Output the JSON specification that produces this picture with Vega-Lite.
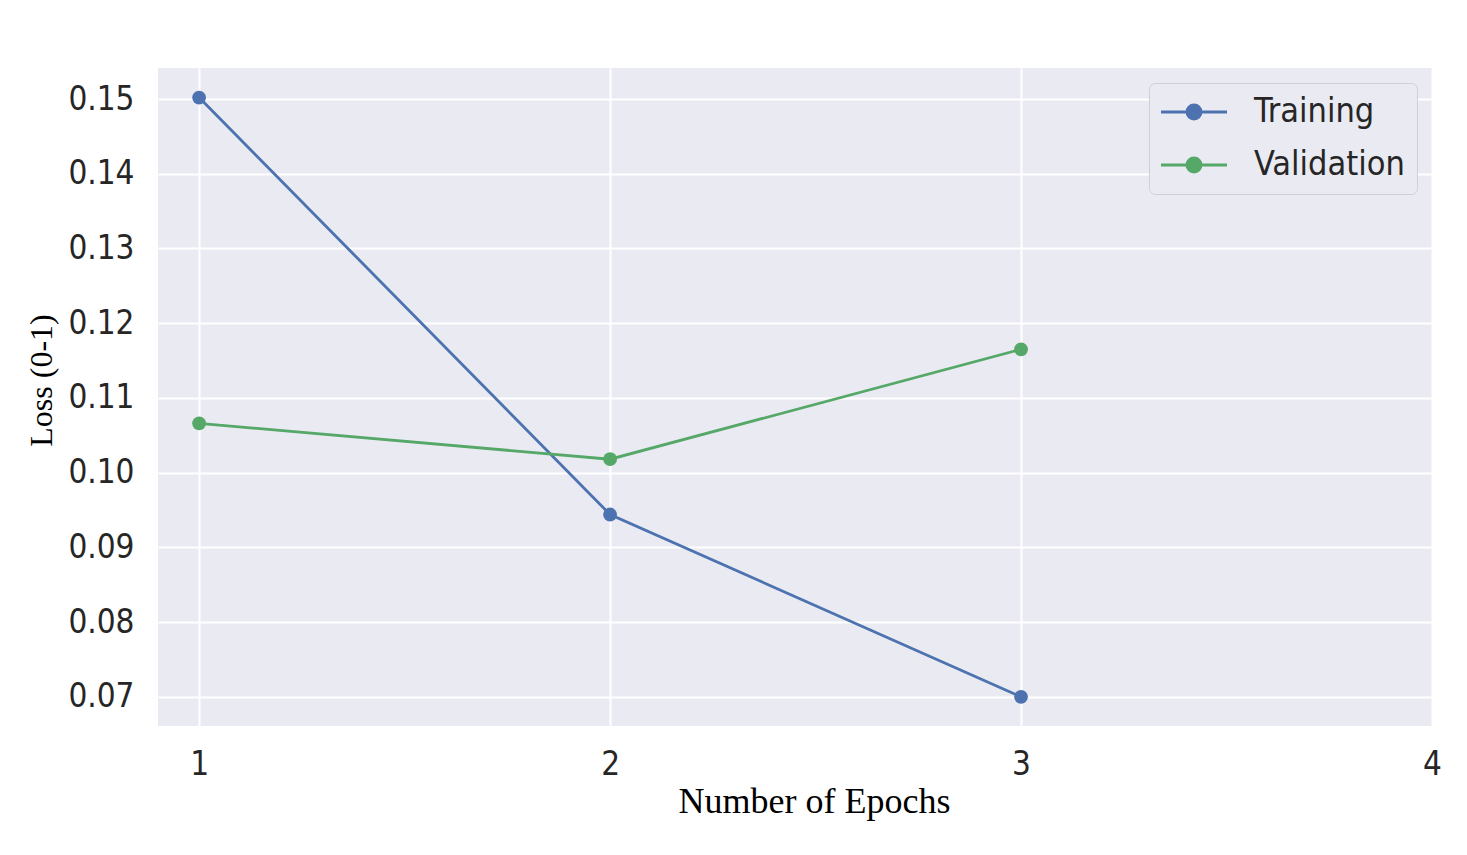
{
  "$schema": "https://vega.github.io/schema/vega-lite/v6.json",
  "width": 1274,
  "height": 658,
  "autosize": {"type": "none"},
  "padding": {"left": 158, "top": 68, "right": 35, "bottom": 129},
  "background": "white",
  "config": {
    "view": {"fill": "#EAEAF2", "stroke": null},
    "font": "DejaVu Sans Condensed, DejaVu Sans"
  },
  "data": {
    "values": [
      {"epoch": 1, "loss": 0.1502, "series": "Training"},
      {"epoch": 2, "loss": 0.0944, "series": "Training"},
      {"epoch": 3, "loss": 0.0700, "series": "Training"},
      {"epoch": 1, "loss": 0.1066, "series": "Validation"},
      {"epoch": 2, "loss": 0.1018, "series": "Validation"},
      {"epoch": 3, "loss": 0.1165, "series": "Validation"}
    ]
  },
  "mark": {"type": "line", "point": {"filled": true, "size": 190, "opacity": 1}, "strokeWidth": 2.8},
  "encoding": {
    "x": {
      "field": "epoch",
      "type": "quantitative",
      "scale": {"domain": [0.9, 4], "nice": false, "zero": false},
      "axis": {
        "values": [1, 2, 3, 4],
        "format": "d",
        "title": "Number of Epochs",
        "titleFont": "Liberation Serif",
        "titleFontSize": 36,
        "titleFontWeight": "normal",
        "titleColor": "black",
        "titleX": 656,
        "titleY": 86,
        "titleBaseline": "alphabetic",
        "titleAlign": "center",
        "labelFontSize": 33,
        "labelColor": "#262626",
        "labelBaseline": "alphabetic",
        "labelPadding": 48,
        "labelFlush": false,
        "labelBound": false,
        "labelOverlap": false,
        "ticks": false,
        "tickSize": 0,
        "domain": false,
        "grid": true,
        "gridColor": "white",
        "gridWidth": 2,
        "gridOpacity": 1
      }
    },
    "y": {
      "field": "loss",
      "type": "quantitative",
      "scale": {"domain": [0.0661, 0.15415], "nice": false, "zero": false},
      "axis": {
        "values": [0.07, 0.08, 0.09, 0.10, 0.11, 0.12, 0.13, 0.14, 0.15],
        "format": ".2f",
        "title": "Loss (0-1)",
        "titleFont": "Liberation Serif",
        "titleFontSize": 32,
        "titleFontWeight": "normal",
        "titleColor": "black",
        "titleX": -117,
        "titleY": 312,
        "titleAngle": 270,
        "titleAlign": "center",
        "titleBaseline": "middle",
        "labelFontSize": 33,
        "labelColor": "#262626",
        "labelPadding": 24,
        "labelOverlap": false,
        "labelFlush": false,
        "ticks": false,
        "tickSize": 0,
        "domain": false,
        "grid": true,
        "gridColor": "white",
        "gridWidth": 2,
        "gridOpacity": 1
      }
    },
    "color": {
      "field": "series",
      "type": "nominal",
      "scale": {"domain": ["Training", "Validation"], "range": ["#4C72B0", "#55A868"]},
      "legend": {
        "title": null,
        "orient": "top-right",
        "offset": 15,
        "fillColor": "#EAEAF2",
        "strokeColor": "#CFCFD6",
        "cornerRadius": 6,
        "padding": 12,
        "labelFontSize": 34,
        "labelColor": "#262626",
        "labelOffset": 43,
        "rowPadding": 19,
        "symbolOffset": 16,
        "symbolType": "M-2.2,0L2.2,0M-0.47,0A0.47,0.47,0,1,1,0.47,0A0.47,0.47,0,1,1,-0.47,0Z",
        "symbolSize": 900,
        "symbolStrokeWidth": 2.8,
        "encode": {
          "symbols": {"update": {"fill": {"scale": "color", "field": "value"}, "fillOpacity": {"value": 1}}}
        }
      }
    }
  }
}
